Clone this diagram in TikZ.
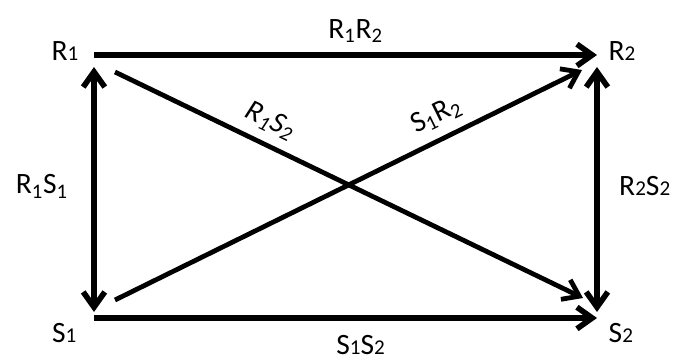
\documentclass[tikz,border=0pt]{standalone}
\usepackage{fontspec}
\setmainfont{Carlito}
\usepackage{tikz}
\usetikzlibrary{arrows.meta, positioning}
\newcommand{\lo}[1]{{\fontsize{15}{15}\selectfont #1}}
\tikzset{
  state/.style = {inner sep=1pt, font=\fontsize{21}{25}\selectfont},
  lbl/.style   = {inner sep=1pt, font=\fontsize{21}{25}\selectfont},
  flow/.style  = {-{Straight Barb[length=3.8mm, width=5.4mm]}, line width=4pt},
  both/.style  = {{Straight Barb[length=3.8mm, width=5.4mm]}-{Straight Barb[length=3.8mm, width=5.4mm]}, line width=4pt},
  cross/.style = {-{Straight Barb[length=3.8mm, width=5.4mm]}, line width=3.4pt},
}

\begin{document}
\begin{tikzpicture}[x=0.025cm, y=0.025cm]
    \useasboundingbox (0,0) rectangle (675,360);

    % corners
    \coordinate (r1) at (94,305);
    \coordinate (r2) at (597,305);
    \coordinate (s1) at (94,42);
    \coordinate (s2) at (597,42);

    \node[state, left=0.35cm of r1, yshift=1mm] (R1) {R\lo{1}};
    \node[state, right=0.25cm of r2, yshift=1mm] (R2) {R\lo{2}};
    \node[state, below left=0.1cm and 0.4cm of s1] (S1) {S\lo{1}};
    \node[state, below right=0.1cm and 0.25cm of s2] (S2) {S\lo{2}};

    \draw[flow] (r1) -- node[lbl, above=0.2cm, pos=0.52] (rr) {R\textsubscript{1}R\textsubscript{2}} (r2);
    \draw[flow] (s1) -- node[lbl, below=0.33cm, pos=0.53] (ss) {S\lo{1}S\lo{2}} (s2);
    \draw[both, shorten <=0.15cm, shorten >=0.3cm] (s1) -- node[lbl, left=0.55cm] (rs) {R\textsubscript{1}S\textsubscript{1}} (r1);
    \draw[both, shorten <=0.15cm, shorten >=0.3cm] (s2) -- node[lbl, right=0.45cm] (rs2) {R\lo{2}S\lo{2}} (r2);

    \draw[cross] ([shift={(21,-17)}]r1) -- node[lbl, sloped, above=0.2cm, pos=0.31] (d1) {\itshape R\textsubscript{1}S\textsubscript{2}} ([shift={(-14,20)}]s2);
    \draw[cross] ([shift={(21,18)}]s1) -- node[lbl, sloped, above=0.2cm, pos=0.71] (d2) {S\textsubscript{1}R\textsubscript{2}} ([shift={(-15,-15)}]r2);
  \end{tikzpicture}
\end{document}
